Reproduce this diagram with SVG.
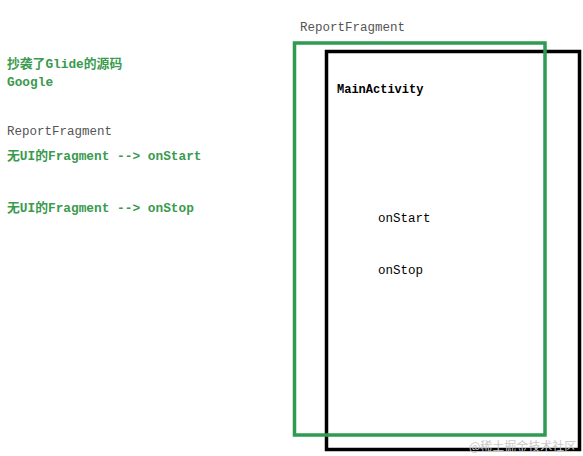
<svg xmlns="http://www.w3.org/2000/svg" width="583" height="456" viewBox="0 0 583 456">
<style>
.t{font-family:"Liberation Mono","Noto Sans CJK SC",monospace;font-size:12.5px}
.g{fill:#3a9a4e;font-weight:bold;font-size:12.8px}
.gray{fill:#555555}
.b{fill:#000000}
.bold{font-weight:bold}
.wm{font-family:"Noto Sans CJK SC",sans-serif;font-size:12px;fill:#c8c8c8}
</style>
<rect width="583" height="456" fill="#ffffff"/>
<g id="notes">
<text class="t g" x="7" y="68">抄袭了Glide的源码</text>
<text class="t g" x="7" y="86">Google</text>
<text class="t gray" x="7" y="135">ReportFragment</text>
<text class="t g" x="7" y="160">无UI的Fragment --&gt; onStart</text>
<text class="t g" x="7" y="212">无UI的Fragment --&gt; onStop</text>
</g>
<g id="MainActivity">
<rect x="326.5" y="51.5" width="253" height="398" fill="none" stroke="#000000" stroke-width="3.5"/>
<text class="t b bold" x="337" y="93" style="font-size:12px">MainActivity</text>
<text class="t b" x="378" y="222">onStart</text>
<text class="t b" x="378" y="274">onStop</text>
</g>
<g id="ReportFragment">
<rect x="294.5" y="43" width="250.5" height="392" fill="none" stroke="#2e9a52" stroke-width="3.5"/>
<text class="t gray" x="300" y="31">ReportFragment</text>
</g>
<g id="connectors"></g>
<text class="wm" x="469" y="451">@稀土掘金技术社区</text>
</svg>
